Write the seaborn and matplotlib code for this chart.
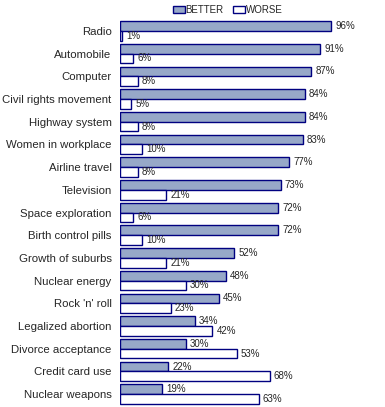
import pandas as pd
import matplotlib.pyplot as plt
import seaborn as sns

# Data
categories = ['Radio', 'Automobile', 'Computer', 'Civil rights movement',
              'Highway system', 'Women in workplace', 'Airline travel',
              'Television', 'Space exploration', 'Birth control pills',
              'Growth of suburbs', 'Nuclear energy', "Rock 'n' roll",
              'Legalized abortion', 'Divorce acceptance', 'Credit card use',
              'Nuclear weapons']
better = [96, 91, 87, 84, 84, 83, 77, 73, 72, 72, 52, 48, 45, 34, 30, 22, 19]
worse = [1, 6, 8, 5, 8, 10, 8, 21, 6, 10, 21, 30, 23, 42, 53, 68, 63]
series = ['BETTER', 'WORSE']

sns.set_style('white')
plt.rcParams['font.family'] = ['Liberation Sans', 'DejaVu Sans']

df = pd.DataFrame({'category': categories * 2,
                   'series': ['BETTER'] * len(categories) + ['WORSE'] * len(categories),
                   'value': better + worse})

fig = plt.figure(figsize=(3.85, 4.07), dpi=100)
ax = fig.add_axes([120 / 385, 1.5 / 407, 220 / 385, 386 / 407])

sns.barplot(data=df, y='category', x='value', hue='series', orient='h',
            order=categories, hue_order=series,
            palette={'BETTER': '#8fa6d0', 'WORSE': 'white'},
            edgecolor='#000080', linewidth=1, width=0.86, ax=ax)

for c in ax.containers:
    ax.bar_label(c, fmt='%d%%', padding=3, fontsize=7)

ax.set_xlim(0, 100)
ax.set_ylim(16.5, -0.5)
ax.set_xlabel('')
ax.set_ylabel('')
ax.set_xticks([])
ax.tick_params(axis='y', length=0, pad=6, labelsize=8.2)
sns.despine(ax=ax, left=True, bottom=True)

ax.legend(loc='center', bbox_to_anchor=(228 / 385, 1 - 10 / 407),
          bbox_transform=fig.transFigure, ncol=2, frameon=False,
          fontsize=7, handlelength=1.2, handleheight=0.8,
          handletextpad=0.1, columnspacing=1.0, borderpad=0)

fig.savefig('out.png', dpi=100)
